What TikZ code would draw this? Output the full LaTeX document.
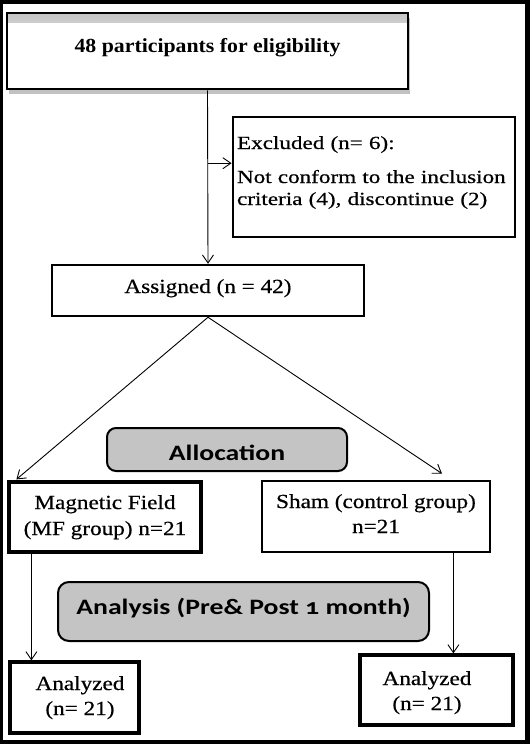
\documentclass[tikz,border=0pt]{standalone}
\usepackage{fontspec}
\usetikzlibrary{arrows.meta,calc,shadows}
\newfontfamily\srf[FakeStretch=1.16,FakeBold=0.6]{Liberation Serif}
\newfontfamily\srx[FakeStretch=1.25,FakeBold=0.6]{Liberation Serif}
\newfontfamily\srtop[FakeStretch=1.09]{Liberation Serif}
\newfontfamily\ssf[FakeStretch=1.26,Numbers=OldStyle]{Carlito}
\definecolor{boxgray}{RGB}{196,196,196}
\tikzset{
  sbox/.style={draw=black, line width=2.8pt, fill=white, inner sep=0pt, align=center,
    font=\srf\fontsize{20}{25}\selectfont, text height=12pt},
  gbox/.style={draw=black, line width=2pt, fill=boxgray, rounded corners=9pt, inner sep=0pt,
    font=\ssf\bfseries\fontsize{22}{26}\selectfont},
  arr/.style={-{Straight Barb[length=8pt,width=11pt]}, line width=0.9pt},
}
\begin{document}
\begin{tikzpicture}[x=1pt,y=-1pt]
\useasboundingbox (0,0) rectangle (530,744);
\fill[black] (0,0) rectangle (530,744);
\fill[white] (3,3.5) rectangle (525,740);

\node[sbox, minimum width=401pt, minimum height=76pt, font=\srtop\bfseries\fontsize{20}{24}\selectfont,
  text height=13pt, text depth=11pt,
  drop shadow={shadow xshift=1.5pt, shadow yshift=-5pt, fill=gray!60, opacity=0.8},
  path picture={\shade[top color=gray!45, bottom color=white]
    (path picture bounding box.north west) rectangle ([yshift=-9pt]path picture bounding box.north east);}]
  (top) at (207.5,51) {48 participants for eligibility};

\node[sbox, minimum width=282pt, minimum height=120pt, align=left, text width=274pt, inner xsep=4pt,
  text height=12pt, text depth=68pt, font=\srx\fontsize{18.5}{22}\selectfont]
  (excl) at (374,177) {Excluded (n= 6):\\[12pt]Not conform to the inclusion\\criteria (4), discontinue (2)};

\node[sbox, line width=2.5pt, minimum width=312pt, minimum height=51pt, text depth=7pt]
  (assigned) at (208,290.5) {Assigned (n = 42)};

\node[gbox, minimum width=240pt, minimum height=43pt, text height=25pt, text depth=4pt]
  (alloc) at (227,449.5) {Allocation};

\node[sbox, line width=3.2pt, minimum width=192pt, minimum height=70pt, text height=40pt, text depth=4pt, font=\srf\fontsize{20}{26}\selectfont]
  (mf) at (105,517) {Magnetic Field\\(MF group) n=21};

\node[sbox, minimum width=228pt, minimum height=71pt, text height=37pt, text depth=4pt]
  (sham) at (376,516.5) {Sham (control group)\\n=21};

\node[gbox, minimum width=371pt, minimum height=59pt, rounded corners=11pt, text height=15pt, text depth=10pt]
  (analysis) at (243.5,611.5) {Analysis (Pre\& Post 1 month)};

\node[sbox, line width=3.2pt, minimum width=129pt, minimum height=71pt, text height=39pt, text depth=4pt]
  (anl) at (74.5,697.5) {\hspace*{11pt}Analyzed\\\hspace*{11pt}(n= 21)};

\node[sbox, line width=3.2pt, minimum width=153pt, minimum height=70pt, text height=44pt, text depth=4pt]
  (anr) at (436.5,690) {Analyzed\hspace*{19pt}\\(n= 21)\hspace*{19pt}};

\draw[arr] (top.south) -- (assigned.north);
\path (top.south) -- (assigned.north) coordinate[pos=0.42] (j);
\draw[arr] (j) -- (j -| excl.west);

\draw[arr] (assigned.south) -- ($(mf.north west)+(9,-1)$);
\draw[arr] (assigned.south) -- ($(sham.north)+(66,-6)$);

\coordinate (ms) at ($(mf.south west)+(24,0)$);
\draw[arr] (ms) -- (ms |- anl.north);
\coordinate (ss) at ($(sham.south east)+(-38,0)$);
\draw[arr] (ss) -- (ss |- anr.north);
\end{tikzpicture}
\end{document}
